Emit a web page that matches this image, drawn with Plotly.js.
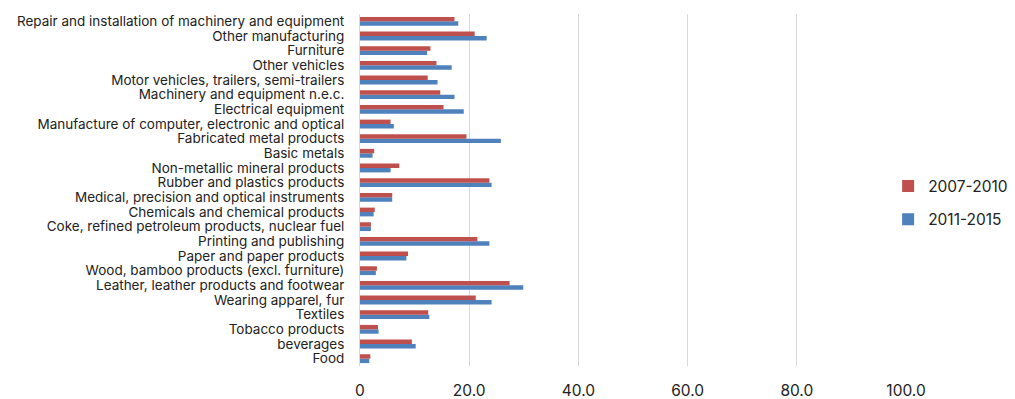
<!DOCTYPE html>
<html>
<head>
<meta charset="utf-8">
<script src="https://cdn.plot.ly/plotly-3.0.1.min.js"></script>
<style>html,body{margin:0;padding:0;background:#fff;}#chart{width:1015px;height:399px;}</style>
</head>
<body>
<div id="chart"></div>
<script>
// Categories listed bottom to top
const categories = [
  "Food", "beverages", "Tobacco products", "Textiles", "Wearing apparel, fur",
  "Leather, leather products and footwear", "Wood, bamboo products (excl. furniture)",
  "Paper and paper products", "Printing and publishing",
  "Coke, refined petroleum products, nuclear fuel", "Chemicals and chemical products",
  "Medical, precision and optical instruments", "Rubber and plastics products",
  "Non-metallic mineral products", "Basic metals", "Fabricated metal products",
  "Manufacture of computer, electronic and optical", "Electrical equipment",
  "Machinery and equipment n.e.c.", "Motor vehicles, trailers, semi-trailers",
  "Other vehicles", "Furniture", "Other manufacturing",
  "Repair and installation of machinery and equipment"
];
const values2007_2010 = [1.9, 9.5, 3.3, 12.5, 21.2, 27.4, 3.1, 8.8, 21.5, 2.0, 2.7, 5.9, 23.7, 7.2, 2.6, 19.5, 5.6, 15.3, 14.7, 12.4, 14.0, 12.9, 21.0, 17.3];
const values2011_2015 = [1.7, 10.2, 3.4, 12.7, 24.1, 29.9, 2.9, 8.5, 23.7, 2.0, 2.5, 5.9, 24.1, 5.6, 2.3, 25.8, 6.2, 19.0, 17.3, 14.2, 16.8, 12.3, 23.2, 18.0];
const seriesNames = ["2007-2010", "2011-2015"];
const xTickVals = [0, 20, 40, 60, 80, 100];
const xTickText = ["0", "20.0", "40.0", "60.0", "80.0", "100.0"];

const traces = [
  {
    type: "bar", orientation: "h", name: seriesNames[1],
    y: categories, x: values2011_2015,
    marker: {color: "#4f81bd"}, legendgroup: "b", legendrank: 2
  },
  {
    type: "bar", orientation: "h", name: seriesNames[0],
    y: categories, x: values2007_2010,
    marker: {color: "#c0504d"}, legendgroup: "a", legendrank: 1
  }
];

const layout = {
  width: 1015, height: 399,
  margin: {l: 360, r: 109, t: 14, b: 33, pad: 0, autoexpand: false},
  paper_bgcolor: "#fff", plot_bgcolor: "#fff",
  font: {family: "Inter, Roboto, sans-serif", color: "#222", size: 12},
  barmode: "group", bargap: 0.4, bargroupgap: 0,
  showlegend: true,
  legend: {
    xref: "container", x: 0.875, xanchor: "left",
    y: 0.463, yanchor: "middle",
    font: {size: 15.5, color: "#222"},
    tracegroupgap: 10, traceorder: "grouped",
    bgcolor: "rgba(0,0,0,0)"
  },
  xaxis: {
    range: [0, 100], tickvals: xTickVals, ticktext: xTickText,
    showgrid: true, gridcolor: "#d9d9d9", gridwidth: 1,
    zeroline: false, showline: false, ticks: "",
    tickfont: {size: 15.5, color: "#222"}, ticklabelstandoff: 13,
    fixedrange: true
  },
  yaxis: {
    type: "category", categoryorder: "array", categoryarray: categories,
    tickmode: "array", tickvals: categories, ticktext: categories,
    showgrid: false, zeroline: false,
    showline: true, linecolor: "#d9d9d9", linewidth: 1,
    ticks: "", tickfont: {size: 13.5, color: "#222"}, ticklabelstandoff: 12,
    automargin: false, fixedrange: true
  }
};

Plotly.newPlot("chart", traces, layout, {displayModeBar: false, staticPlot: true});
</script>
</body>
</html>
